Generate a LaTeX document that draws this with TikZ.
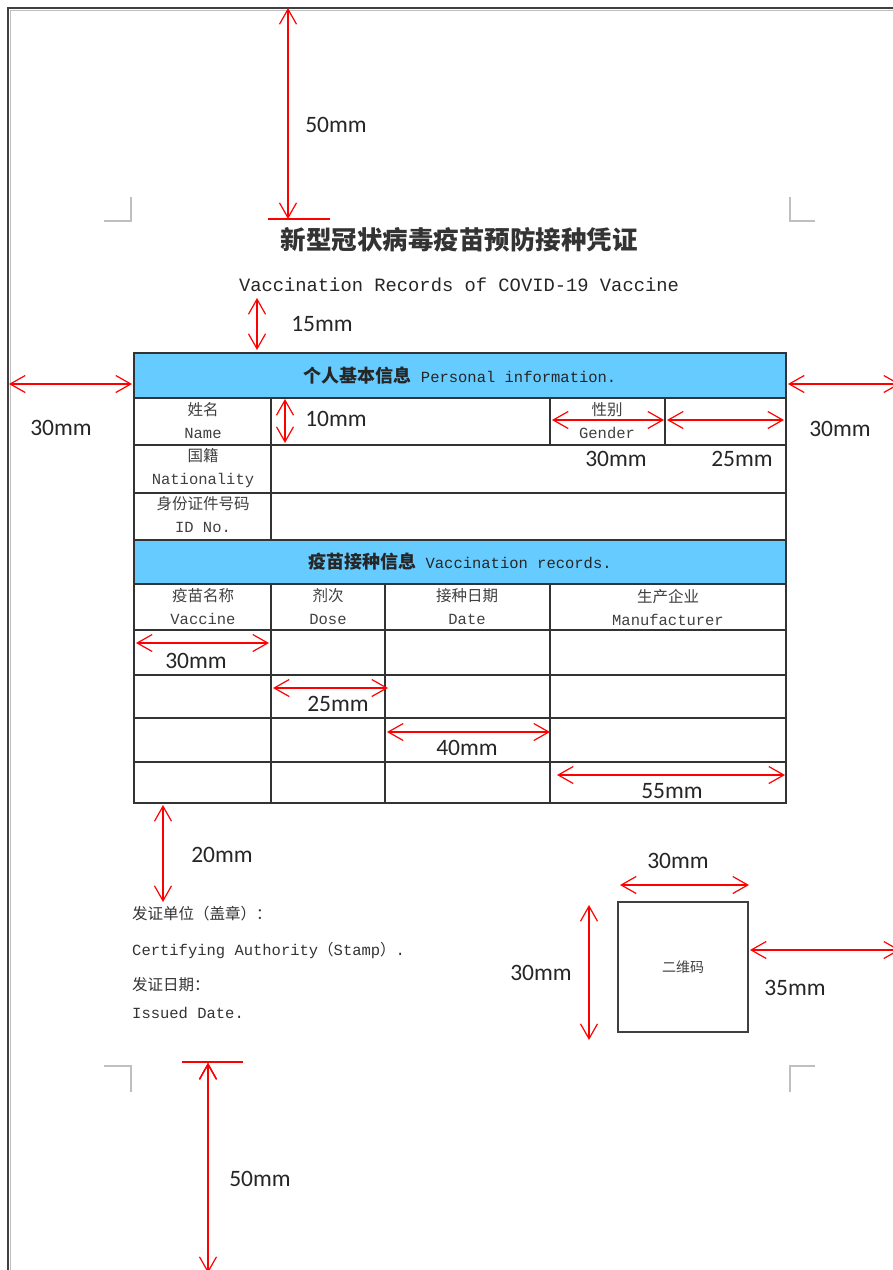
\documentclass[tikz,border=0pt]{standalone}
\usepackage{fontspec}
\setmainfont{Carlito}
\newfontfamily\cjk{Noto Sans CJK SC}
\newfontfamily\tabfont{Liberation Mono}
\usepackage{xcolor}
\usetikzlibrary{arrows.meta,positioning}
\definecolor{headblue}{RGB}{102,204,255}
\tikzset{>={Straight Barb[length=15pt,width=17pt]}}
\tikzset{dim/.style={draw=red,line width=1.2pt,<->},
         tick/.style={draw=red,line width=1.5pt},
         dim label/.style={font=\fontsize{23.5}{23.5}\selectfont,text=black!85,inner sep=0pt},
         cell/.style={font=\fontsize{15.5}{23}\selectfont\tabfont,text=black!75,align=center,inner sep=0pt},
         head bar/.style={fill=headblue,draw=black!80,line width=1.4pt,minimum width=652pt,inner sep=0pt,
                          font=\fontsize{15.5}{15.5}\selectfont\tabfont,text=black!85},
         grid line/.style={draw=black!80,line width=1.4pt},
         crop mark/.style={draw=black!25,line width=1.5pt},
         foot text/.style={font=\fontsize{15.5}{15.5}\selectfont\tabfont,text=black!80,anchor=west,inner sep=0pt},
            }

\begin{document}
\begin{tikzpicture}[x=1pt,y=-1pt]

    \clip (0,0) rectangle (893,1270);
    \fill[white] (0,0) rectangle (893,1270);

    % page edge and crop marks
    \draw[black!25,line width=1.5pt] (10.5,1270) -- (10.5,10.5) -- (893,10.5);
    \draw[black!75,line width=2pt] (8,1270) -- (8,8) -- (893,8);
    \draw[crop mark] (104,221) -- (131,221) -- (131,197);
    \draw[crop mark] (790,197) -- (790,221) -- (815,221);
    \draw[crop mark] (104,1066) -- (131,1066) -- (131,1092);
    \draw[crop mark] (815,1066) -- (790,1066) -- (790,1092);

    % titles
    \node[font=\fontsize{25.5}{25.5}\selectfont\cjk\bfseries,text=black!80] (title) at (459,240) {新型冠状病毒疫苗预防接种凭证};
    \node[font=\fontsize{18.8}{18.8}\selectfont\tabfont,text=black!85] (subtitle) at (459,285) {Vaccination Records of COVID-19 Vaccine};

    % table
    \node[head bar,minimum height=45pt] (pinfo) at (460,375.5)
        {{\fontsize{18}{18}\selectfont\cjk\bfseries 个人基本信息} Personal information.};
    \node[head bar,minimum height=44pt] (vinfo) at (460,562)
        {{\fontsize{18}{18}\selectfont\cjk\bfseries 疫苗接种信息} Vaccination records.};
    \foreach \y in {445,493,630,675,718,762}
        \draw[grid line] (134,\y) -- (786,\y);
    \draw[grid line] (134,398) -- (134,540) (786,398) -- (786,540);
    \draw[grid line] (134,584) rectangle (786,803);
    \draw[grid line] (271,398) -- (271,540) (550,398) -- (550,445) (665,398) -- (665,445);
    \draw[grid line] (271,584) -- (271,803) (385,584) -- (385,803) (550,584) -- (550,803);

    \node[cell] (name) at (203,421) {{\cjk 姓名}\\Name};
    \node[cell] (gender) at (607,421) {{\cjk 性别}\\Gender};
    \node[cell] (nation) at (203,468) {{\cjk 国籍}\\Nationality};
    \node[cell] (idno) at (203,515) {{\cjk 身份证件号码}\\ID No.};
    \node[cell] (vaccine) at (203,607) {{\cjk 疫苗名称}\\Vaccine};
    \node[cell] (dose) at (328,607) {{\cjk 剂次}\\Dose};
    \node[cell] (date) at (467,607) {{\cjk 接种日期}\\Date};
    \node[cell] (maker) at (668,607) {{\cjk 生产企业}\\Manufacturer};

    % footer
    \node[foot text] (unit) at (132,914) {{\cjk 发证单位（盖章）：}};
    \node[foot text] (auth) at (132,950) {Certifying Authority{\cjk （}Stamp{\cjk ）}.};
    \node[foot text] (issue) at (132,985) {{\cjk 发证日期：}};
    \node[foot text] (idate) at (132,1013) {Issued Date.};
    \node[draw=black!75,line width=1.5pt,minimum size=130pt,inner sep=0pt,
          font=\fontsize{14}{14}\selectfont\cjk,text=black!75] (qr) at (683,967) {二维码};

    % dimension arrows
    \coordinate (t1) at (288,8);     \coordinate (t2) at (288,219);
    \coordinate (s1) at (257,298);   \coordinate (s2) at (257,350);
    \coordinate (l1) at (9,384);     \coordinate (l2) at (132,384);
    \coordinate (r1) at (788,384);   \coordinate (r2) at (900,384);
    \coordinate (h1) at (285,399);   \coordinate (h2) at (285,443);
    \coordinate (g1) at (552,420);   \coordinate (g2) at (664,420);
    \coordinate (g3) at (667,420);   \coordinate (g4) at (784,420);
    \coordinate (c1) at (136,643);   \coordinate (c2) at (269,643);
    \coordinate (c3) at (273,688);   \coordinate (c4) at (388,688);
    \coordinate (c5) at (387,732);   \coordinate (c6) at (550,732);
    \coordinate (c7) at (557,775);   \coordinate (c8) at (785,775);
    \coordinate (f1) at (163,805);   \coordinate (f2) at (163,902);
    \coordinate (q1) at (620,885);   \coordinate (q2) at (749,885);
    \coordinate (q3) at (589,905);   \coordinate (q4) at (589,1040);
    \coordinate (q5) at (750,950);   \coordinate (q6) at (900,950);
    \coordinate (b1) at (208,1063);  \coordinate (b2) at (208,1273);

    \path[dim] (t1) edge (t2) (s1) edge (s2) (l1) edge (l2) (r1) edge (r2)
               (h1) edge (h2) (g1) edge (g2) (g3) edge (g4)
               (c1) edge (c2) (c3) edge (c4) (c5) edge (c6) (c7) edge (c8)
               (f1) edge (f2) (q1) edge (q2) (q3) edge (q4) (q5) edge (q6)
               (b1) edge (b2);
    \draw[tick] (268,219) -- (330,219);
    \draw[tick] (182,1062) -- (243,1062);

    \node[dim label] at (336,125) {50mm};
    \node[dim label] at (322,324) {15mm};
    \node[dim label] at (61,428) {30mm};
    \node[dim label] at (840,429) {30mm};
    \node[dim label] at (336,419) {10mm};
    \node[dim label] at (616,459) {30mm};
    \node[dim label] at (742,459) {25mm};
    \node[dim label] at (196,661) {30mm};
    \node[dim label] at (338,704) {25mm};
    \node[dim label] at (467,748) {40mm};
    \node[dim label] at (672,791) {55mm};
    \node[dim label] at (222,855) {20mm};
    \node[dim label] at (678,861) {30mm};
    \node[dim label] at (541,973) {30mm};
    \node[dim label] at (795,988) {35mm};
    \node[dim label] at (260,1179) {50mm};

\end{tikzpicture}
\end{document}
